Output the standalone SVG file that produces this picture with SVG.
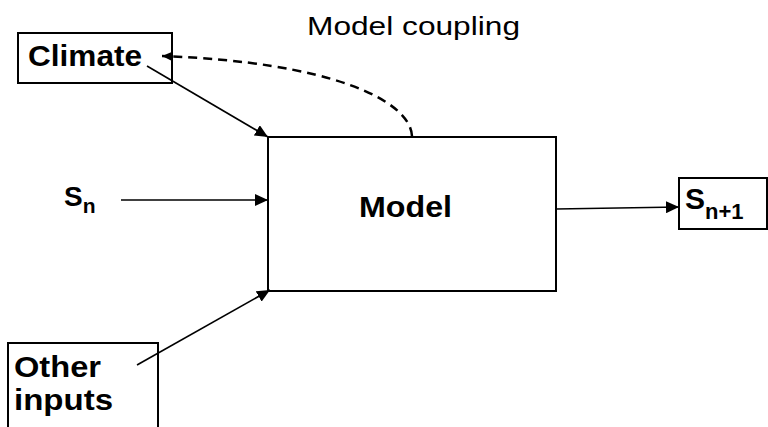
<svg xmlns="http://www.w3.org/2000/svg" width="768" height="427" viewBox="0 0 768 427">
<defs>
<marker id="ah" markerUnits="userSpaceOnUse" markerWidth="14" markerHeight="12" refX="13" refY="6" orient="auto">
<path d="M0,0 L13,6 L0,12 Z" fill="#000"/>
</marker>
<marker id="ahs" markerUnits="userSpaceOnUse" markerWidth="12" markerHeight="10" refX="11" refY="5" orient="auto">
<path d="M0,0 L11,5 L0,10 Z" fill="#000"/>
</marker>
<style>
.box{fill:#fff;stroke:#000;stroke-width:2}
.t{font-family:"Liberation Sans",Arial,sans-serif;fill:#000}
.b{font-weight:bold}
.ln{fill:none;stroke:#000;stroke-width:1.6}
</style>
</defs>
<rect width="768" height="427" fill="#fff"/>
<text class="t" x="307" y="35" font-size="26" textLength="213" lengthAdjust="spacingAndGlyphs">Model coupling</text>
<g id="climate">
<rect class="box" x="18" y="33" width="154" height="50"/>
<text class="t b" x="28" y="66" font-size="29" textLength="114" lengthAdjust="spacingAndGlyphs">Climate</text>
</g>
<g id="model">
<rect class="box" x="268" y="137" width="288" height="154"/>
<text class="t b" x="359" y="217" font-size="30" textLength="93" lengthAdjust="spacingAndGlyphs">Model</text>
</g>
<g id="sn">
<text class="t b" x="64" y="206" font-size="28">S<tspan font-size="21" dy="7">n</tspan></text>
</g>
<g id="sn1">
<rect class="box" x="679" y="178" width="88" height="51"/>
<text class="t b" x="685" y="209" font-size="30">S<tspan font-size="22" dy="10">n+1</tspan></text>
</g>
<g id="other">
<rect class="box" x="8" y="343" width="150" height="100"/>
<text class="t b" x="14" y="377" font-size="29" textLength="87" lengthAdjust="spacingAndGlyphs">Other</text>
<text class="t b" x="14" y="410" font-size="29" textLength="99" lengthAdjust="spacingAndGlyphs">inputs</text>
</g>
<g id="connectors">
<line class="ln" x1="147" y1="66" x2="268" y2="137" marker-end="url(#ah)"/>
<line class="ln" x1="121" y1="200" x2="268" y2="200" marker-end="url(#ah)"/>
<line class="ln" x1="137" y1="365" x2="270" y2="290" marker-end="url(#ah)"/>
<line class="ln" x1="556" y1="209" x2="679" y2="207" marker-end="url(#ah)"/>
<path d="M412,136 C410,100 330,62 162,56" fill="none" stroke="#000" stroke-width="2.5" stroke-dasharray="9,6" marker-end="url(#ahs)"/>
</g>
</svg>
